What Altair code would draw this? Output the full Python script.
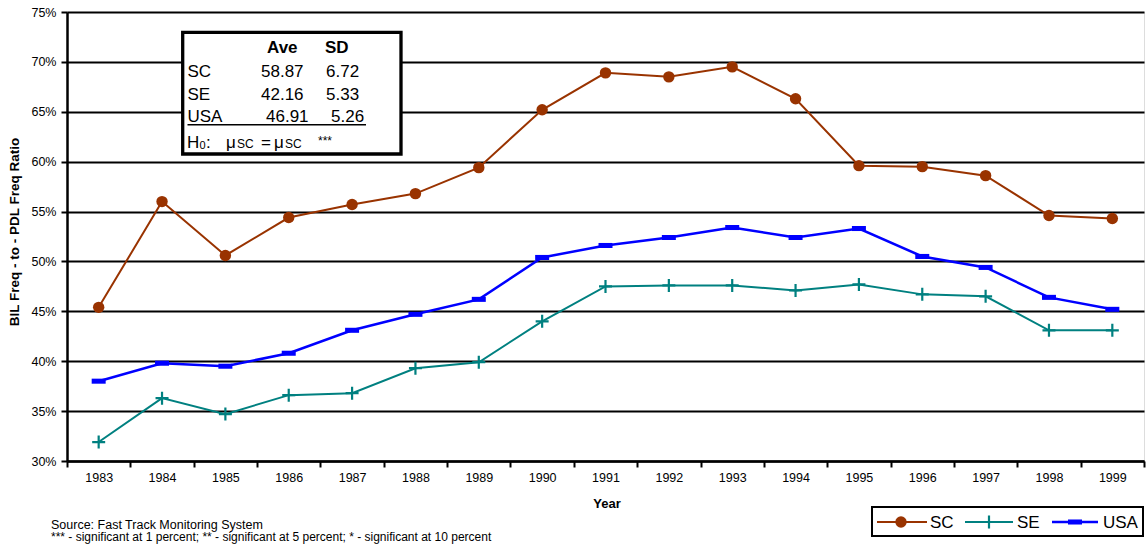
import altair as alt
import pandas as pd

# ---- data -------------------------------------------------------------
years = list(range(1983, 2000))
sc_pct = [45.4, 56.0, 50.6, 54.4, 55.7, 56.8, 59.4, 65.2, 68.9, 68.5,
          69.5, 66.3, 59.6, 59.5, 58.6, 54.6, 54.3]
se_pct = [31.9, 36.3, 34.7, 36.6, 36.8, 39.3, 39.9, 44.0, 47.5, 47.6,
          47.6, 47.1, 47.7, 46.7, 46.5, 43.1, 43.1]
usa_pct = [38.0, 39.8, 39.5, 40.8, 43.1, 44.7, 46.2, 50.4, 51.6, 52.4,
           53.4, 52.4, 53.3, 50.5, 49.4, 46.4, 45.2]
y_ticks = [0.30, 0.35, 0.40, 0.45, 0.50, 0.55, 0.60, 0.65, 0.70, 0.75]

summary_rows = [("SC", "58.87", "6.72"), ("SE", "42.16", "5.33"), ("USA", "46.91", "5.26")]

series_names = ["SC", "SE", "USA"]
series_colors = {"SC": "#993300", "SE": "#008080", "USA": "#0000FF"}

rows = []
for name, vals in zip(series_names, [sc_pct, se_pct, usa_pct]):
    for yr, v in zip(years, vals):
        rows.append({"year": str(yr), "pct": v, "series": name})
df = pd.DataFrame(rows)

# ---- layout -----------------------------------------------------------
LEFT, TOP = 67, 12
W, H = 1077, 449
FONT = "Liberation Sans"

PLUS = "M-1,0H1M0,-1V1"
DASH = "M-1,-0.36H1V0.36H-1Z"

def at(ax, ay):
    return ax - LEFT, ay - TOP

base = alt.Chart(df).transform_calculate(ratio="datum.pct / 100")

x_enc = alt.X(
    "year:O",
    scale=alt.Scale(type="band", paddingInner=0, paddingOuter=0),
    bandPosition=0.5,
    axis=alt.Axis(
        title=None, labelAngle=0, tickBand="extent", tickSize=6,
        tickColor="black", tickWidth=2, domainColor="black", domainWidth=2.5,
        labelFontSize=12.5, labelColor="black", labelFont=FONT, labelPadding=4,
        grid=False,
    ),
)
y_enc = alt.Y(
    "ratio:Q",
    scale=alt.Scale(domain=[0.30, 0.75], nice=False, zero=False),
    axis=alt.Axis(
        title=None, format=".0%", values=y_ticks, grid=True, gridColor="black",
        gridWidth=2, gridOpacity=1, tickSize=6, tickColor="black", tickWidth=2,
        domainColor="black", domainWidth=2.5, labelFontSize=12.5,
        labelColor="black", labelFont=FONT, labelPadding=5,
    ),
)

layers = []

# summary statistics box (drawn first so the series sit above it)
bx0, by0 = at(182.7, 32.3)
bx1, by1 = at(401, 154)
one = alt.Data(values=[{}])
layers.append(
    alt.Chart(one).mark_rect(fill="white", stroke="black", strokeWidth=3.3)
    .encode(x=alt.value(bx0), x2=alt.value(bx1), y=alt.value(by0), y2=alt.value(by1))
)

def label(text, ax, ay, size=17, weight="normal", align="left", angle=0, baseline="alphabetic"):
    px, py = at(ax, ay)
    kw = dict(text=text, fontSize=size, fontWeight=weight, align=align,
              baseline=baseline, font=FONT, color="black")
    if angle:
        kw["angle"] = angle
    return alt.Chart(one).mark_text(**kw).encode(x=alt.value(px), y=alt.value(py))

layers.append(label("Ave", 267, 53, weight="bold"))
layers.append(label("SD", 325, 53, weight="bold"))
row_y = [77, 100, 122]
for (nm, ave, sd), ry in zip(summary_rows, row_y):
    shift = 5 if nm == "USA" else 0
    layers.append(label(nm, 187.5, ry))
    layers.append(label(ave, 261 + shift, ry))
    layers.append(label(sd, 326 + shift, ry))
ux0, uy = at(187.5, 124.7)
ux1, _ = at(366, 124.7)
layers.append(
    alt.Chart(one).mark_rule(color="black", strokeWidth=1.5)
    .encode(x=alt.value(ux0), x2=alt.value(ux1), y=alt.value(uy))
)
# hypothesis line: H0:  μSC = μSC   ***
layers.append(label("H", 187, 148))
layers.append(label("0", 199.5, 149, size=11))
layers.append(label(":", 206, 148))
layers.append(label("μ", 226, 148))
layers.append(label("SC", 237, 148, size=12))
layers.append(label("=", 261, 148))
layers.append(label("μ", 274, 148))
layers.append(label("SC", 285, 148, size=12))
layers.append(label("***", 318, 145, size=12))

# series lines and markers
styles = {
    "SC": dict(width=2, shape="circle", filled=True, size=130, sw=0),
    "SE": dict(width=2, shape=PLUS, filled=False, size=169, sw=2.2),
    "USA": dict(width=2.5, shape=DASH, filled=True, size=196, sw=0),
}
for name in series_names:
    st = styles[name]
    col = series_colors[name]
    sub = base.transform_filter(alt.datum.series == name)
    layers.append(sub.mark_line(color=col, strokeWidth=st["width"]).encode(x=x_enc, y=y_enc))
    layers.append(
        sub.mark_point(shape=st["shape"], filled=st["filled"], color=col,
                       size=st["size"], strokeWidth=st["sw"], opacity=1)
        .encode(x=x_enc, y=y_enc)
    )

# axis titles
layers.append(label("BIL Freq - to - PDL Freq Ratio", 15, 232, size=13.5, weight="bold",
                    align="center", angle=270, baseline="middle"))
layers.append(label("Year", 607, 504, size=13, weight="bold", align="center", baseline="middle"))

# footnotes
layers.append(label("Source: Fast Track Monitoring System", 51, 529, size=12.5))
layers.append(label("*** - significant at 1 percent; ** - significant at 5 percent; * - significant at 10 percent",
                    51, 541, size=12))

# legend box
lx0, ly0 = at(872, 507)
lx1, ly1 = at(1143, 536)
layers.append(
    alt.Chart(one).mark_rect(fill="white", stroke="black", strokeWidth=2)
    .encode(x=alt.value(lx0), x2=alt.value(lx1), y=alt.value(ly0), y2=alt.value(ly1))
)
legend_items = [("SC", 877, 927, 901, 930), ("SE", 965, 1013, 989, 1017), ("USA", 1052, 1098, 1075, 1103)]
for name, a0, a1, mx, tx in legend_items:
    st = styles[name]
    col = series_colors[name]
    r0, ry = at(a0, 522)
    r1, _ = at(a1, 522)
    mxr, _ = at(mx, 522)
    layers.append(
        alt.Chart(one).mark_rule(color=col, strokeWidth=st["width"])
        .encode(x=alt.value(r0), x2=alt.value(r1), y=alt.value(ry))
    )
    layers.append(
        alt.Chart(one).mark_point(shape=st["shape"], filled=st["filled"], color=col,
                                  size=st["size"], strokeWidth=st["sw"], opacity=1)
        .encode(x=alt.value(mxr), y=alt.value(ry))
    )
    layers.append(label(name, tx, 528, size=17))

chart = (
    alt.layer(*layers)
    .properties(width=W, height=H, autosize=alt.AutoSizeParams(type="none"),
                padding={"left": LEFT, "top": TOP, "right": 3, "bottom": 83})
    .configure_view(stroke="black", strokeWidth=2)
    .configure(background="white")
)

chart.save("out.html", embed_options={"renderer": "svg", "actions": False})
